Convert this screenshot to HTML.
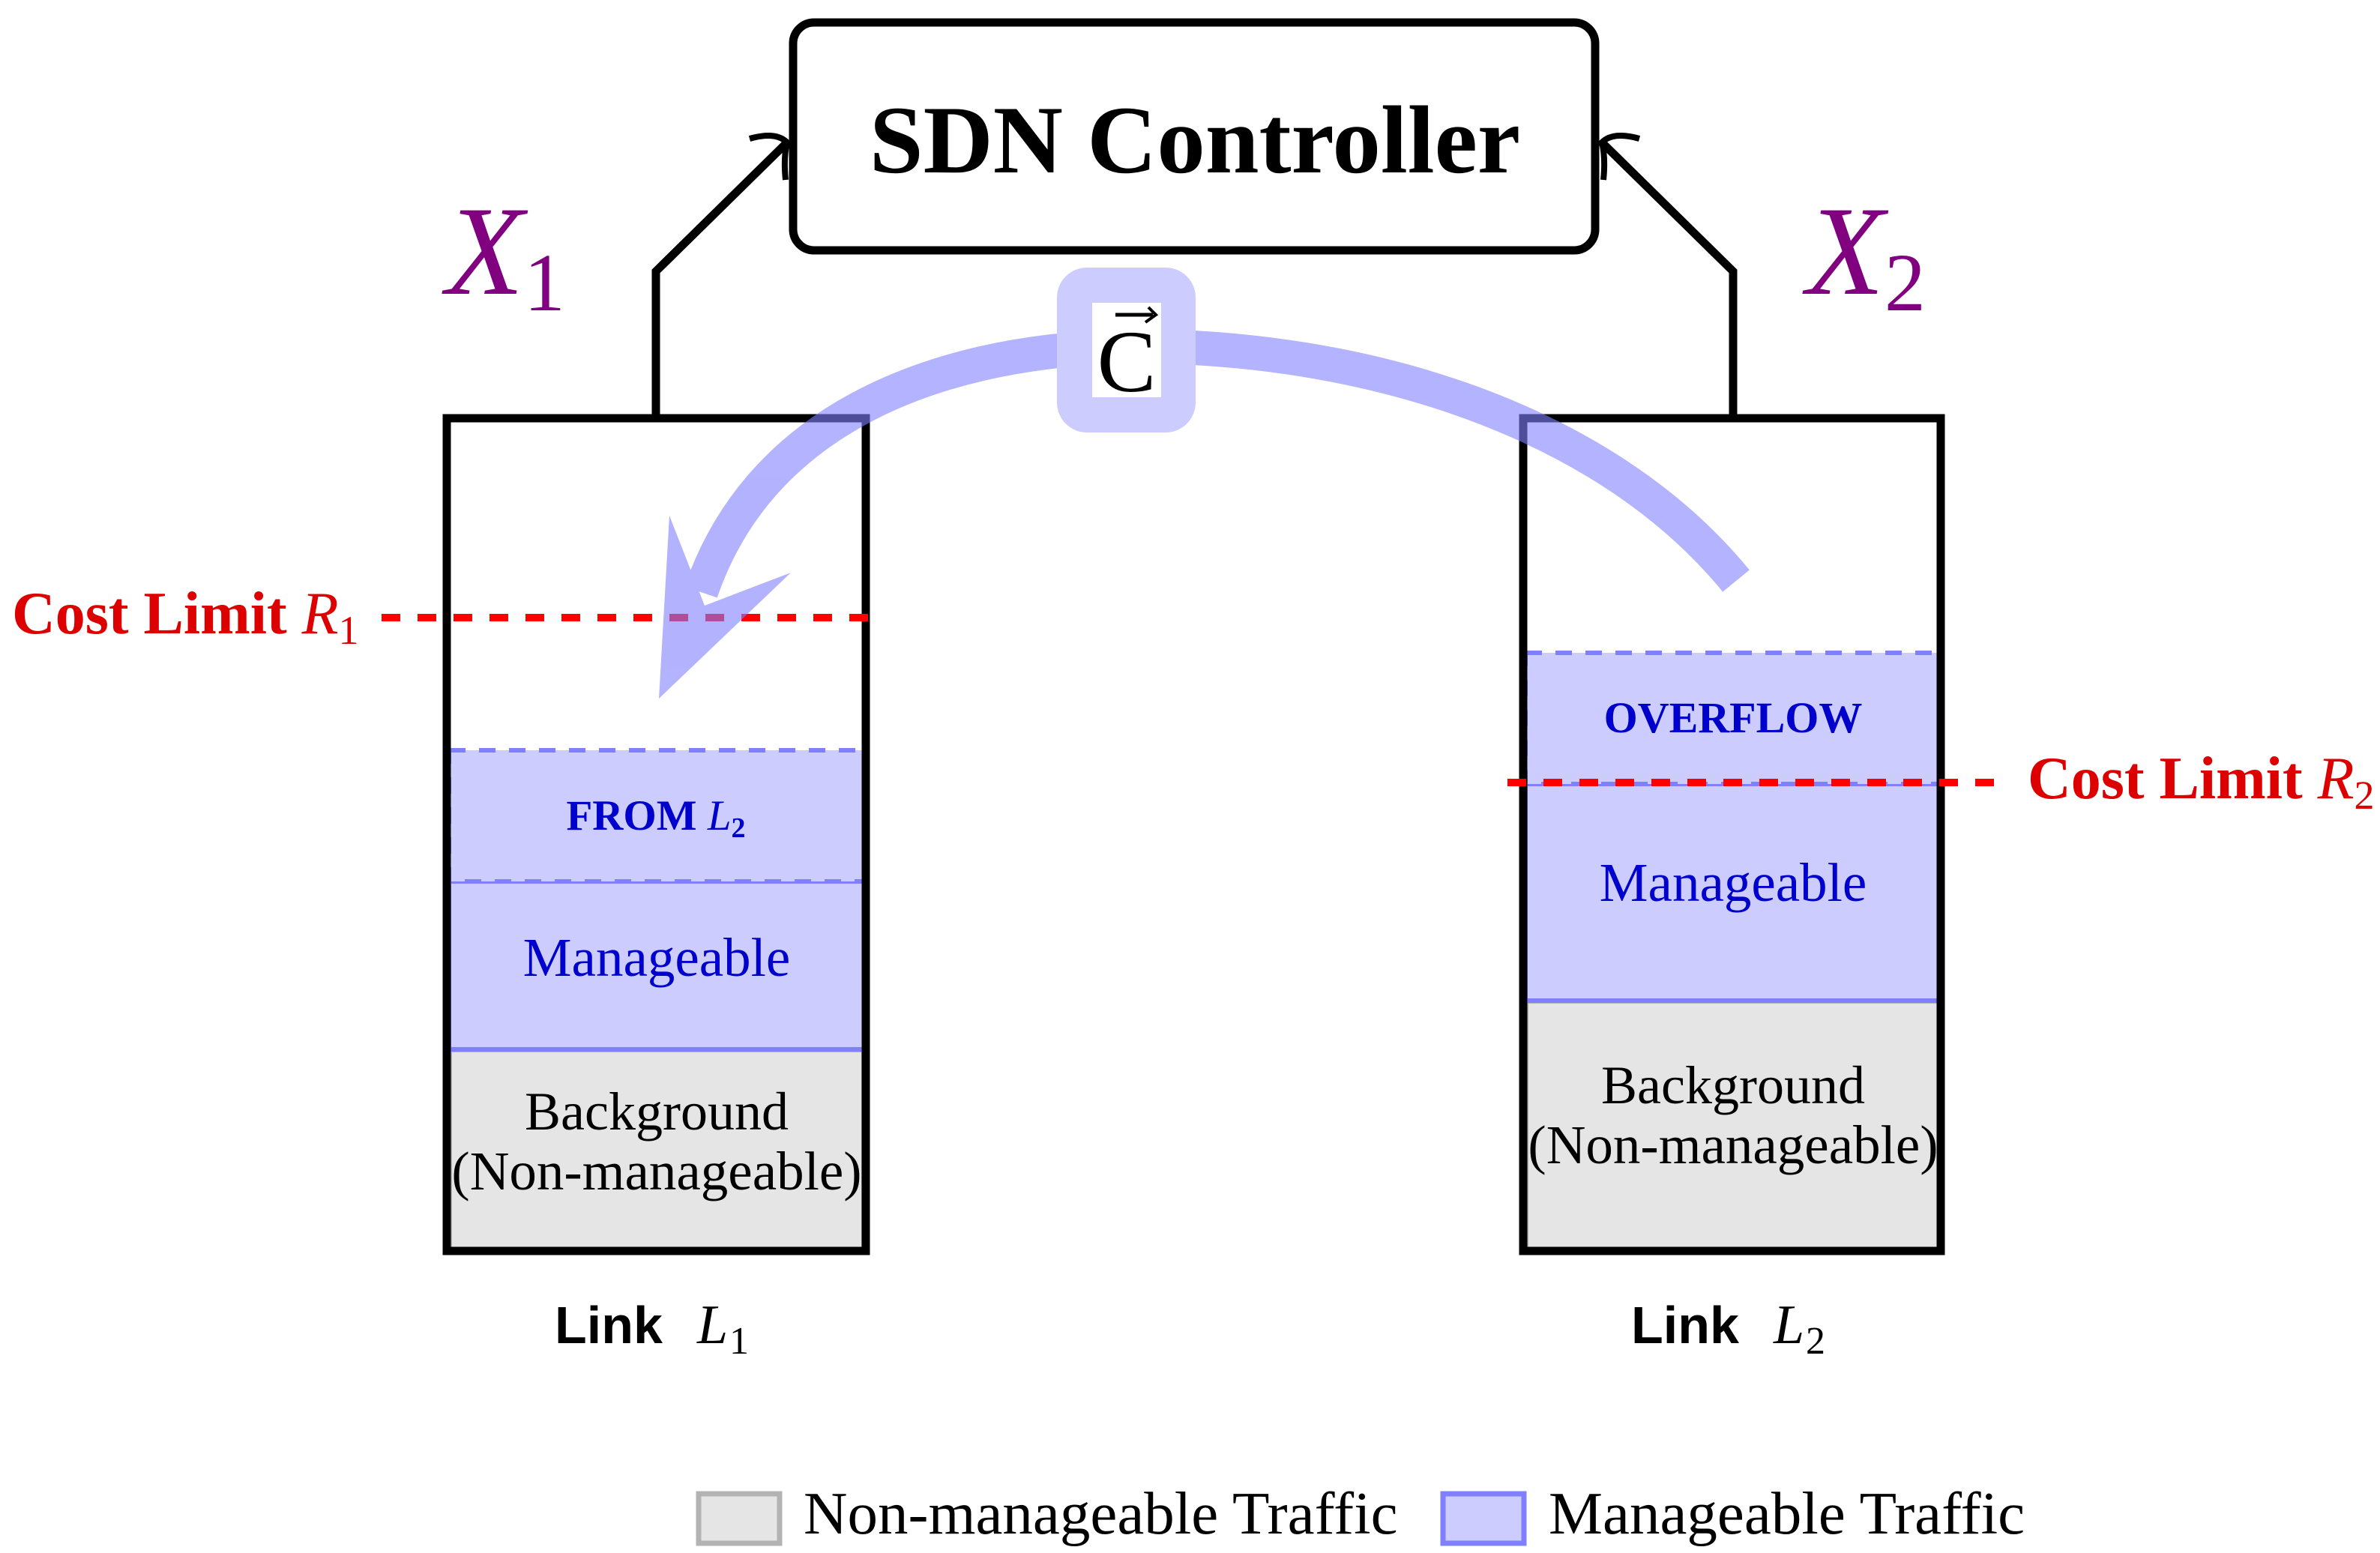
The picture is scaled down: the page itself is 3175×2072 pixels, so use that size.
<!DOCTYPE html>
<html><head><meta charset="utf-8"><style>
html,body{margin:0;padding:0;background:#fff;}
svg{display:block;}
text{font-family:"Liberation Serif",serif;}
</style></head><body>
<svg width="3175" height="2072" viewBox="0 0 3175 2072" xmlns="http://www.w3.org/2000/svg">
<!-- SDN box -->
<rect x="1058" y="30" width="1070" height="304" rx="28" fill="#fff" stroke="#000" stroke-width="11"/>
<text x="1594" y="230" font-size="129" font-weight="bold" text-anchor="middle">SDN Controller</text>
<!-- connectors -->
<polyline points="875,556 875,362 1050,190" fill="none" stroke="#000" stroke-width="11"/>
<path d="M1000,185 Q1035,175 1050,190 Q1045,210 1048,240" fill="none" stroke="#000" stroke-width="8"/>
<polyline points="2312,556 2312,362 2137,190" fill="none" stroke="#000" stroke-width="11"/>
<path d="M2187,185 Q2152,175 2137,190 Q2142,210 2139,240" fill="none" stroke="#000" stroke-width="8"/>
<text x="595" y="392" font-size="170" font-style="italic" fill="#800080">X<tspan font-style="normal" font-size="110" dy="22">1</tspan></text>
<text x="2410" y="392" font-size="170" font-style="italic" fill="#800080">X<tspan font-style="normal" font-size="110" dy="22">2</tspan></text>
<!-- Left column -->
<rect x="599" y="1400" width="554" height="268" fill="#e5e5e5" stroke="#b3b3b3" stroke-width="8"/>
<rect x="599" y="1176" width="554" height="224" fill="#ccccff" stroke="#8080ff" stroke-width="6"/>
<rect x="599" y="1001" width="554" height="175" fill="#ccccff" stroke="#8080ff" stroke-width="6" stroke-dasharray="22,18"/>
<path d="M596,1669 L596,558 L1155,558 L1155,1669 Z" fill="none" stroke="#000" stroke-width="11"/>
<text x="875" y="1107" font-size="57" font-weight="bold" fill="#0000cc" text-anchor="middle">FROM <tspan font-style="italic" font-weight="normal">L</tspan><tspan font-size="38" dy="10">2</tspan></text>
<text x="876" y="1302" font-size="73" fill="#0000cc" text-anchor="middle">Manageable</text>
<text x="876" y="1507" font-size="72" text-anchor="middle">Background</text>
<text x="876" y="1587" font-size="73" text-anchor="middle">(Non-manageable)</text>
<!-- Right column -->
<rect x="2035" y="1335" width="554" height="333" fill="#e5e5e5" stroke="#b3b3b3" stroke-width="8"/>
<rect x="2035" y="1046" width="554" height="289" fill="#ccccff" stroke="#8080ff" stroke-width="6"/>
<rect x="2035" y="871" width="554" height="175" fill="#ccccff" stroke="#8080ff" stroke-width="6" stroke-dasharray="22,18"/>
<path d="M2032,1669 L2032,558 L2589,558 L2589,1669 Z" fill="none" stroke="#000" stroke-width="11"/>
<text x="2312" y="977" font-size="58" font-weight="bold" fill="#0000cc" text-anchor="middle">OVERFLOW</text>
<text x="2312" y="1202" font-size="73" fill="#0000cc" text-anchor="middle">Manageable</text>
<text x="2312" y="1472" font-size="72" text-anchor="middle">Background</text>
<text x="2312" y="1552" font-size="73" text-anchor="middle">(Non-manageable)</text>
<!-- cost lines -->
<line x1="509" y1="824" x2="1174" y2="824" stroke="#ff0000" stroke-width="10" stroke-dasharray="25,23"/>
<text x="16" y="845" font-size="80" font-weight="bold" fill="#dd0000">Cost Limit <tspan font-style="italic" font-weight="normal">R</tspan><tspan font-size="54" dy="14" font-weight="normal">1</tspan></text>
<line x1="2011" y1="1044" x2="2676" y2="1044" stroke="#ff0000" stroke-width="10" stroke-dasharray="25,23"/>
<text x="2705" y="1065" font-size="80" font-weight="bold" fill="#dd0000">Cost Limit <tspan font-style="italic" font-weight="normal">R</tspan><tspan font-size="54" dy="14" font-weight="normal">2</tspan></text>
<!-- curved arrow -->
<g opacity="0.6">
<path d="M2316,775 C2140,560 1820,460 1505,462 C1230,468 1010,570 935,790" fill="none" stroke="#8080ff" stroke-width="46"/>
<polygon points="893,688 940,808 1055,764 879,932" fill="#8080ff"/>
</g>
<rect x="1410" y="357" width="185" height="220" rx="40" fill="#ccccff"/>
<rect x="1457" y="404" width="92" height="126" fill="#fff"/>
<text x="1503" y="522" font-size="118" text-anchor="middle">C</text>
<line x1="1488" y1="420" x2="1538" y2="420" stroke="#000" stroke-width="5"/>
<polyline points="1532,410 1542,420 1528,430" fill="none" stroke="#000" stroke-width="4"/>
<!-- link labels -->
<text x="740" y="1792" font-size="70" font-weight="bold" style="font-family:'Liberation Sans',sans-serif">Link</text>
<text x="930" y="1792" font-size="74" font-style="italic">L</text><text x="973" y="1806" font-size="52">1</text>
<text x="2176" y="1792" font-size="70" font-weight="bold" style="font-family:'Liberation Sans',sans-serif">Link</text>
<text x="2366" y="1792" font-size="74" font-style="italic">L</text><text x="2409" y="1806" font-size="52">2</text>
<!-- legend -->
<rect x="932" y="1993" width="108" height="66" fill="#e5e5e5" stroke="#b3b3b3" stroke-width="7"/>
<text x="1072" y="2046" font-size="81">Non-manageable Traffic</text>
<rect x="1925" y="1993" width="108" height="66" fill="#ccccff" stroke="#8080ff" stroke-width="7"/>
<text x="2066" y="2046" font-size="81">Manageable Traffic</text>
</svg>
</body></html>
